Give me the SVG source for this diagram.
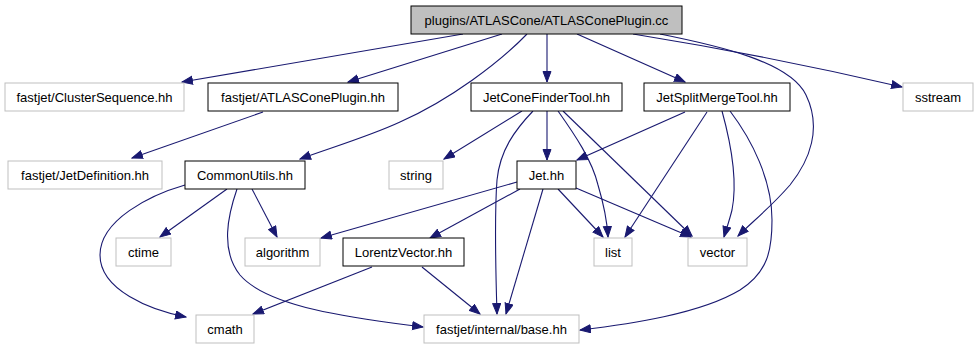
<svg xmlns="http://www.w3.org/2000/svg" width="979" height="349" viewBox="0 0 979 349">
<style>
  .bg{fill:#ffffff}
  .n rect{fill:#ffffff;stroke:#000000;stroke-width:1}
  .g rect{stroke:#bfbfbf}
  .root rect{fill:#bfbfbf}
  .n text{font-family:"Liberation Sans",Arial,Helvetica,sans-serif;font-size:13px;text-anchor:middle;fill:#000000}
  #edges path{fill:none;stroke:#191970;stroke-width:1.1;marker-end:url(#ah)}
</style>
<defs>
  <marker id="ah" markerUnits="userSpaceOnUse" markerWidth="12" markerHeight="10" refX="11" refY="4.5" orient="auto">
    <path d="M0.5,0.5 L11,4.5 L0.5,8.5 Z" fill="#191970" stroke="#191970" stroke-width="1"/>
  </marker>
</defs>
<rect class="bg" x="0" y="0" width="979" height="349"/>
<g id="edges">
  <path d="M463,34 L182,82"/>
  <path d="M502,34 L348,82"/>
  <path d="M527,34 C500,62 450,100 400,122 C370,136 330,148 300,159"/>
  <path d="M547,34 L547,82"/>
  <path d="M577,34 L685,82"/>
  <path d="M660,34 C720,46 790,62 806,95 C822,128 810,160 790,185 C770,208 752,222 738,236"/>
  <path d="M633,34 C720,48 820,68 902,87"/>
  <path d="M522,111 L444,159"/>
  <path d="M547,111 L547,160"/>
  <path d="M533,111 C515,130 500,150 497,180 C494,220 496,280 497,314"/>
  <path d="M558,111 C575,135 592,160 598,185 C604,205 607,220 608,237"/>
  <path d="M563,111 L692,236"/>
  <path d="M685,112 L577,160"/>
  <path d="M707,112 L625,237"/>
  <path d="M722,111 C730,140 738,180 732,210 C729,222 726,230 724,237"/>
  <path d="M730,111 C752,140 772,180 772,220 C772,250 768,272 740,290 C700,314 630,324 580,330"/>
  <path d="M517,182 L321,238"/>
  <path d="M520,189 L430,238"/>
  <path d="M543,189 L506,314"/>
  <path d="M558,189 L603,237"/>
  <path d="M576,188 L691,237"/>
  <path d="M227,189 L160,237"/>
  <path d="M252,189 L277,237"/>
  <path d="M185,185 C150,195 100,220 100,255 C100,290 150,310 186,317"/>
  <path d="M237,189 C228,215 220,250 240,275 C270,310 370,320 423,327"/>
  <path d="M372,267 L253,314"/>
  <path d="M422,267 L480,314"/>
  <path d="M263,112 L132,158"/>
</g>
<g id="n_root" class="n root"><rect x="411" y="6" width="271" height="28"/><text x="546.5" y="24.5">plugins/ATLASCone/ATLASConePlugin.cc</text></g>
<g id="n_clusterseq" class="n g"><rect x="5" y="83" width="179" height="28"/><text x="94.5" y="101.5">fastjet/ClusterSequence.hh</text></g>
<g id="n_atlasplugin" class="n"><rect x="208" y="83" width="190" height="28"/><text x="303" y="101.5">fastjet/ATLASConePlugin.hh</text></g>
<g id="n_jetconefinder" class="n"><rect x="471" y="83" width="151" height="28"/><text x="546.5" y="101.5">JetConeFinderTool.hh</text></g>
<g id="n_jetsplitmerge" class="n"><rect x="644" y="83" width="146" height="28"/><text x="717" y="101.5">JetSplitMergeTool.hh</text></g>
<g id="n_sstream" class="n g"><rect x="903" y="83" width="70" height="28"/><text x="938" y="101.5">sstream</text></g>
<g id="n_jetdef" class="n g"><rect x="8" y="161" width="154" height="28"/><text x="85" y="179.5">fastjet/JetDefinition.hh</text></g>
<g id="n_commonutils" class="n"><rect x="185" y="161" width="120" height="28"/><text x="245" y="179.5">CommonUtils.hh</text></g>
<g id="n_string" class="n g"><rect x="389" y="161" width="54" height="28"/><text x="416" y="179.5">string</text></g>
<g id="n_jet" class="n"><rect x="517" y="161" width="59" height="28"/><text x="546.5" y="179.5">Jet.hh</text></g>
<g id="n_ctime" class="n g"><rect x="116" y="238" width="55" height="28"/><text x="143.5" y="256.5">ctime</text></g>
<g id="n_algorithm" class="n g"><rect x="245" y="238" width="75" height="28"/><text x="282.5" y="256.5">algorithm</text></g>
<g id="n_lorentz" class="n"><rect x="343" y="238" width="121" height="28"/><text x="403.5" y="256.5">LorentzVector.hh</text></g>
<g id="n_list" class="n g"><rect x="594" y="238" width="38" height="28"/><text x="613" y="256.5">list</text></g>
<g id="n_vector" class="n g"><rect x="688" y="238" width="59" height="28"/><text x="717.5" y="256.5">vector</text></g>
<g id="n_cmath" class="n g"><rect x="196" y="315" width="58" height="28"/><text x="225" y="333.5">cmath</text></g>
<g id="n_base" class="n g"><rect x="424" y="315" width="155" height="28"/><text x="501.5" y="333.5">fastjet/internal/base.hh</text></g>
</svg>
